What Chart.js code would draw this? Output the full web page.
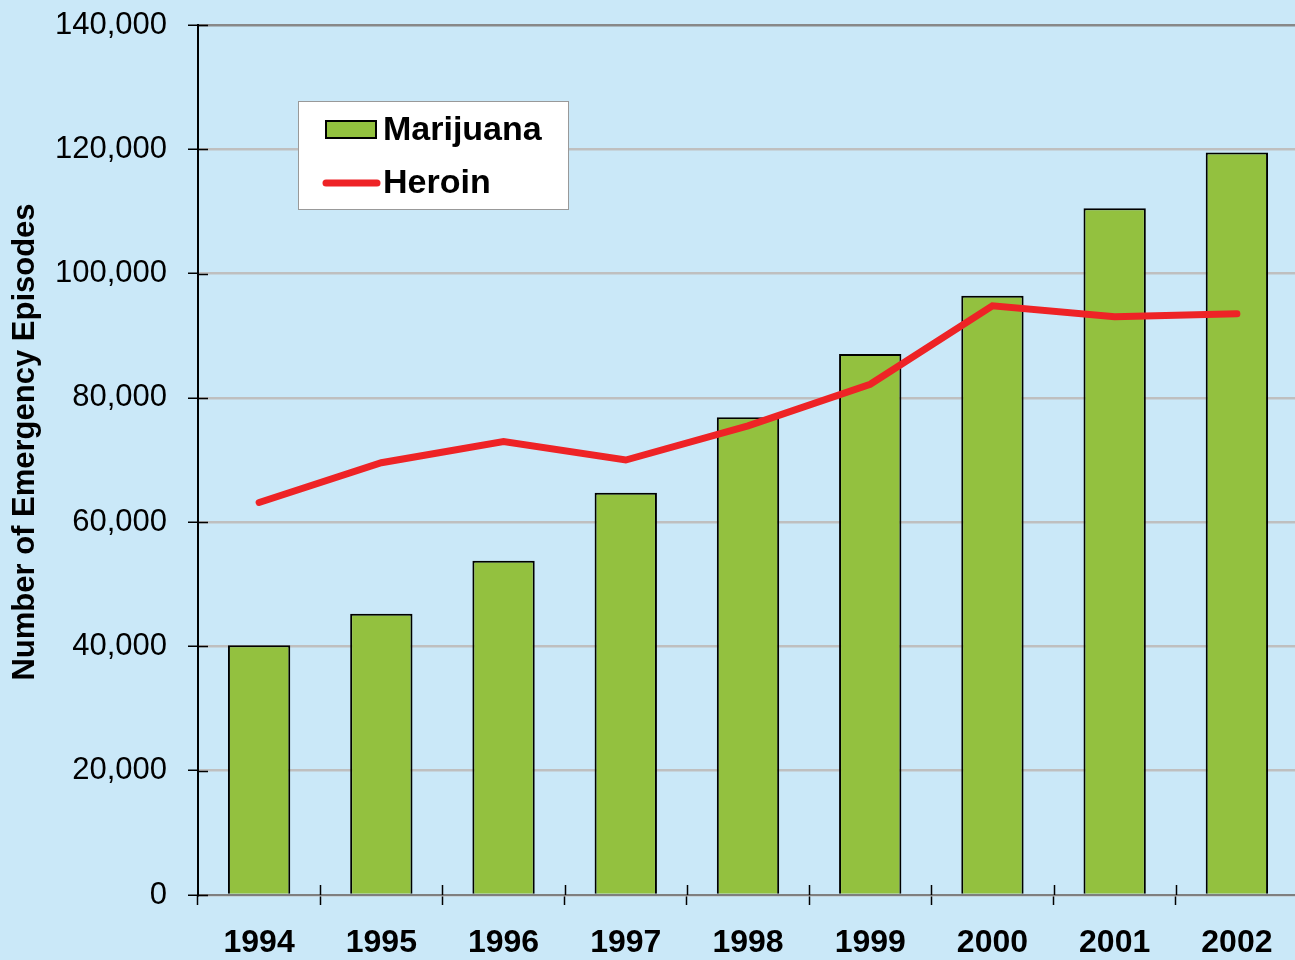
<!DOCTYPE html>
<html><head><meta charset="utf-8">
<script src="https://cdn.jsdelivr.net/npm/chart.js@4.4.1/dist/chart.umd.min.js"></script>
<style>
html,body{margin:0;padding:0;background:#cae8f8;overflow:hidden;width:1295px;height:960px}
#wrap{position:absolute;left:0;top:0;width:1298px;height:960px}
canvas{display:block}
</style></head><body>
<div id="wrap"><canvas id="c" width="1298" height="960"></canvas></div>
<script>
const years = ['1994','1995','1996','1997','1998','1999','2000','2001','2002'];
const marijuana = [40183, 45259, 53770, 64744, 76870, 87068, 96426, 110512, 119472];
const heroin = [63158, 69556, 72980, 70000, 75500, 82192, 94804, 93064, 93519];
const yMin = 0, yMax = 140000, yStep = 20000;
const seriesNames = ['Marijuana', 'Heroin'];
const yTitle = 'Number of Emergency Episodes';

const GREEN = '#93c13f', RED = '#ee2326', FONT = '"Liberation Sans", Arial, sans-serif';

const crossTicks = {
  id: 'crossTicks',
  afterDraw(chart) {
    const ctx = chart.ctx, x = chart.scales.x, y = chart.scales.y, a = chart.chartArea;
    ctx.save();
    ctx.strokeStyle = '#000'; ctx.lineWidth = 1.5;
    const n = x.ticks.length;
    for (let i = 0; i <= n; i++) {
      const px = Math.round(x.getPixelForValue(i - 0.5)) + 0.5;
      if (px < a.left + 2) continue;
      ctx.beginPath(); ctx.moveTo(px, a.bottom); ctx.lineTo(px, a.bottom - 10); ctx.stroke();
    }
    y.ticks.forEach(t => {
      const py = Math.round(y.getPixelForValue(t.value)) + 0.5;
      ctx.beginPath(); ctx.moveTo(a.left, py); ctx.lineTo(a.left + 10, py); ctx.stroke();
    });
    ctx.save();
    ctx.translate(25, (a.top + a.bottom) / 2 - 18);
    ctx.rotate(-Math.PI / 2);
    ctx.fillStyle = '#000'; ctx.font = 'bold 31px ' + FONT;
    ctx.textAlign = 'center'; ctx.textBaseline = 'middle';
    ctx.fillText(yTitle, 0, 0);
    ctx.restore();
    ctx.restore();
  }
};

const boxLegend = {
  id: 'boxLegend',
  afterDraw(chart) {
    const ctx = chart.ctx, a = chart.chartArea;
    const L = a.left + 100, T = a.top + 76, W = 270, H = 108;
    ctx.save();
    ctx.fillStyle = '#fff'; ctx.fillRect(L, T, W, H);
    ctx.strokeStyle = '#999'; ctx.lineWidth = 1; ctx.strokeRect(L + 0.5, T + 0.5, W, H);
    const ds = chart.data.datasets;
    const bar = ds.find(d => d.type === 'bar'), line = ds.find(d => d.type === 'line');
    ctx.fillStyle = bar.backgroundColor; ctx.fillRect(L + 27, T + 19, 52, 19);
    ctx.strokeStyle = '#000'; ctx.lineWidth = 2; ctx.strokeRect(L + 28, T + 20, 50, 17);
    ctx.strokeStyle = line.borderColor; ctx.lineWidth = 7; ctx.lineCap = 'round';
    ctx.beginPath(); ctx.moveTo(L + 28, T + 82); ctx.lineTo(L + 79, T + 82); ctx.stroke();
    ctx.fillStyle = '#000'; ctx.font = 'bold 34px ' + FONT; ctx.textBaseline = 'middle'; ctx.textAlign = 'left';
    ctx.fillText(bar.label, L + 85, T + 30);
    ctx.fillText(line.label, L + 85, T + 83);
    ctx.restore();
  }
};

new Chart(document.getElementById('c'), {
  data: {
    labels: years,
    datasets: [
      { type: 'bar', label: seriesNames[0], data: marijuana, backgroundColor: GREEN, borderColor: '#000',
        borderWidth: 2, barPercentage: 0.51, categoryPercentage: 1.0, order: 1 },
      { type: 'line', label: seriesNames[1], data: heroin, borderColor: RED, backgroundColor: RED,
        borderWidth: 7, pointRadius: 0, tension: 0, borderCapStyle: 'round', borderJoinStyle: 'miter', order: 0 }
    ]
  },
  options: {
    responsive: false, animation: false,
    layout: { padding: { top: 25, right: 0, left: 0, bottom: 0 } },
    plugins: { legend: { display: false }, tooltip: { enabled: false } },
    scales: {
      x: {
        offset: true,
        grid: { display: true, drawOnChartArea: false, offset: true, tickLength: 10, tickColor: '#000', tickWidth: 1.5 },
        border: { display: true, color: '#7f7f7f', width: 2 },
        ticks: { color: '#000', font: { family: FONT, size: 32, weight: 'bold' }, padding: 19, maxRotation: 0 },
        afterFit(s) { s.height = 65; s.paddingLeft = 0; s.paddingRight = 0; }
      },
      y: {
        min: yMin, max: yMax,
        ticks: { stepSize: yStep, color: '#000', font: { family: FONT, size: 31 }, padding: 21,
          callback: v => v.toLocaleString('en-US') },
        grid: { color: c => (c.tick && c.tick.value === yMax) ? '#888888' : '#bfbfbf', lineWidth: 2.5,
          tickLength: 10, tickColor: '#000', tickWidth: 1.5 },
        border: { display: true, color: '#000', width: 2 },
        afterFit(s) { s.width = 198; s.paddingTop = 0; s.paddingBottom = 0; }
      }
    }
  },
  plugins: [crossTicks, boxLegend]
});
</script>
</body></html>
